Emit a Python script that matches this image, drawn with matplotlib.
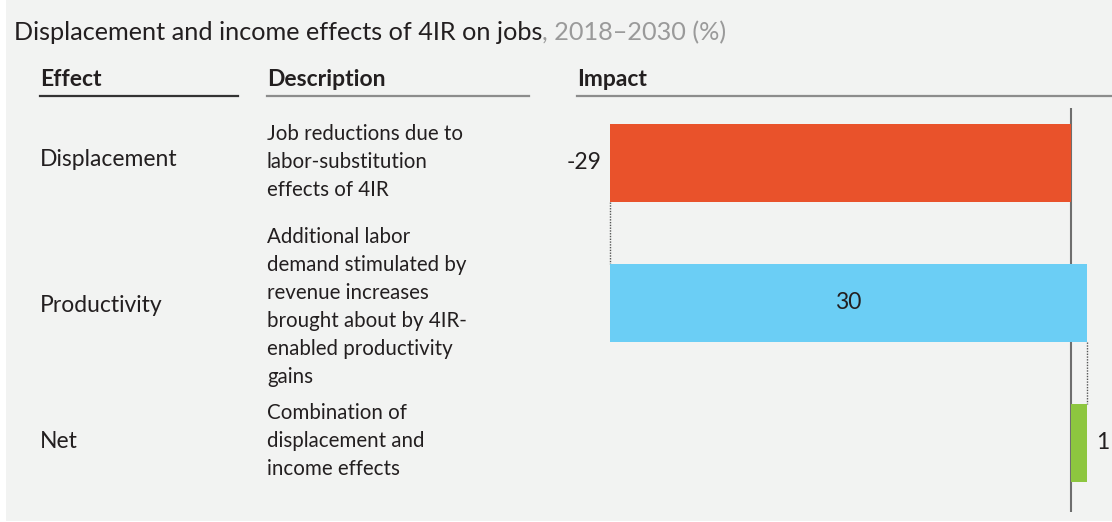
import matplotlib
matplotlib.use("Agg")
import matplotlib.pyplot as plt
from matplotlib.patches import Rectangle

# ---- data ----
effects = ["Displacement", "Productivity", "Net"]
descriptions = [
    ["Job reductions due to", "labor-substitution", "effects of 4IR"],
    ["Additional labor", "demand stimulated by", "revenue increases",
     "brought about by 4IR-", "enabled productivity", "gains"],
    ["Combination of", "displacement and", "income effects"],
]
values = [-29, 30, 1]
value_labels = ["-29", "30", "1"]
headers = ["Effect", "Description", "Impact"]
title_main = "Displacement and income effects of 4IR on jobs"
title_sub = ", 2018\u20132030 (%)"

colors = ["#E9522B", "#6BCEF5", "#8DC63F"]
TXT = "#231F20"
GRAY_T = "#9A9A9A"
BG = "#F2F3F2"
FONT = "Lato"

W, H = 1112, 522
fig = plt.figure(figsize=(W / 100, H / 100), dpi=100)
fig.patch.set_facecolor("white")
plt.rcParams["font.family"] = [FONT, "DejaVu Sans"]

def fx(x):
    return x / W

def fy(y):
    return 1 - y / H

# background panel
fig.patches.append(Rectangle((fx(6), fy(521)), fx(W) - fx(6), fy(0) - fy(521),
                             transform=fig.transFigure, facecolor=BG,
                             edgecolor="none", zorder=-10))

# title
t1 = fig.text(fx(14), fy(33), title_main, fontsize=18.2, color=TXT,
              ha="left", va="center")
fig.canvas.draw()
bb = t1.get_window_extent()
fig.text(bb.x1 / W, fy(33), title_sub, fontsize=18.2, color=GRAY_T,
         ha="left", va="center")

# headers
hx = [40, 267, 577]
for h, x in zip(headers, hx):
    fig.text(fx(x), fy(80), h, fontsize=16.5, fontweight="bold", color=TXT,
             ha="left", va="center")
lines = [(40, 238, "#333333"), (267, 529, "#8C8C8C"), (577, 1112, "#8C8C8C")]
for x0, x1, c in lines:
    fig.add_artist(plt.Line2D([fx(x0), fx(x1)], [fy(96), fy(96)],
                              transform=fig.transFigure, color=c, lw=1.6))

# bar axes: pixel area x 577..1112, y 108..512
ax = fig.add_axes([fx(577), fy(512), fx(1112) - fx(577), fy(108) - fy(512)])
ax.set_facecolor("none")
scale = 15.9
zero_px = 1071
ax.set_xlim((577 - zero_px) / scale, (1112 - zero_px) / scale)
ax.set_ylim(2 + (512 - 443) / 140, -(163 - 108) / 140)
for s in ax.spines.values():
    s.set_visible(False)
ax.set_xticks([])
ax.set_yticks([])

bh = 78 / 140
ax.axvline(0, color="#6E6E6E", lw=1.5, zorder=1)

start = 0
ends = []
for i, v in enumerate(values):
    if i == len(values) - 1:
        left, width = 0, v
        end = v
    else:
        left = min(start, start + v)
        width = abs(v)
        end = start + v
    ax.barh(i, width, left=left, height=bh, color=colors[i], zorder=2)
    ends.append(end)
    start = end

# connectors
for i in range(len(values) - 1):
    ax.plot([ends[i], ends[i]], [i + bh / 2, i + 1 - bh / 2], color="#555555",
            lw=1, ls=(0, (1, 1)), zorder=1)

# value labels
ax.text(values[0] - 0.5, 0, value_labels[0], ha="right", va="center",
        fontsize=16.5, color=TXT)
ax.text(ends[0] + values[1] / 2, 1, value_labels[1], ha="center", va="center",
        fontsize=16.5, color=TXT)
ax.text(values[2] + 0.55, 2, value_labels[2], ha="left", va="center",
        fontsize=16.5, color=TXT)

# effect + description text
eff_y = [160, 306, 441]
desc_top = [134, 237, 413]
for e, d, ey, dt in zip(effects, descriptions, eff_y, desc_top):
    fig.text(fx(40), fy(ey), e, fontsize=16.5, color=TXT, ha="left", va="center")
    for k, line in enumerate(d):
        fig.text(fx(267), fy(dt + 28 * k), line, fontsize=14.8, color=TXT,
                 ha="left", va="center")

fig.savefig("out.png", dpi=100, facecolor=fig.get_facecolor())
